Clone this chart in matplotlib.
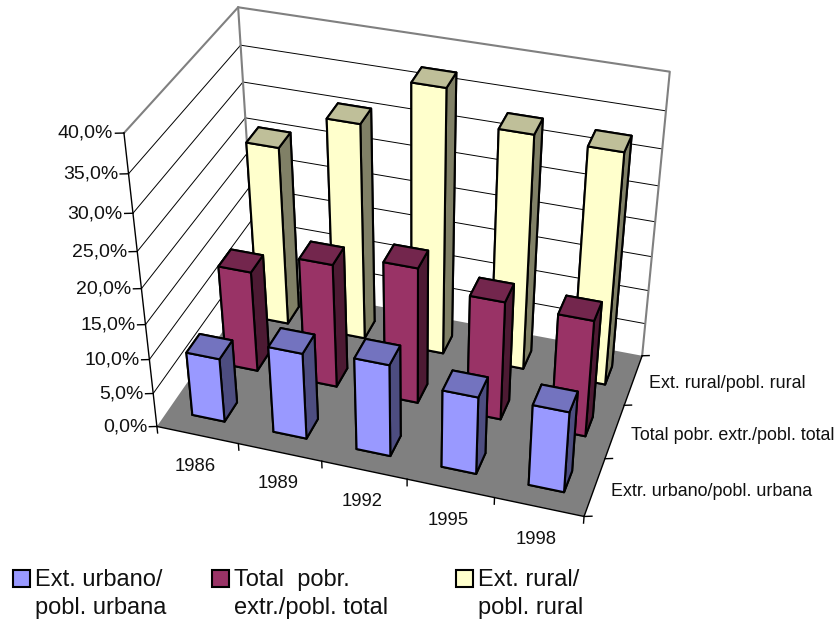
import numpy as np
import matplotlib
matplotlib.use('Agg')
import matplotlib.pyplot as plt
from matplotlib.patches import Rectangle
from mpl_toolkits.mplot3d.art3d import Poly3DCollection

years = ['1986', '1989', '1992', '1995', '1998']
series_names = ['Extr. urbano/pobl. urbana', 'Total pobr. extr./pobl. total', 'Ext. rural/pobl. rural']
legend_names = ['Ext. urbano/\npobl. urbana', 'Total  pobr.\nextr./pobl. total', 'Ext. rural/\npobl. rural']
z_ticks = [0, 5, 10, 15, 20, 25, 30, 35, 40]

urbano = [9.35, 12.55, 13.35, 11.25, 11.7]
total = [14.75, 18.0, 19.7, 17.2, 16.9]
rural = [26.0, 31.1, 37.6, 33.4, 33.0]
values = [urbano, total, rural]

# front, top, side
colors = [('#9999FF', '#7373BF', '#4D4D80'),
          ('#993366', '#73264D', '#4D1A33'),
          ('#FFFFCC', '#BFBF99', '#808066')]

plt.rcParams['font.family'] = ['Liberation Sans', 'DejaVu Sans']

nx, ny, zmax = len(years), len(series_names), z_ticks[-1]

# Box corners and where they sit in the picture, used to fit the camera
box = [(0, 0, 0), (nx, 0, 0), (nx, ny, 0), (0, ny, 0),
       (0, 0, zmax), (nx, ny, zmax), (0, ny, zmax)]
pix = [(156, 426), (584, 517), (642, 355), (257, 284),
       (125, 133), (670, 72), (237, 7)]

rows = []
for (x, y, z), (u, v) in zip(box, pix):
    v = 625 - v
    rows.append([x, y, z, 1, 0, 0, 0, 0, -u*x, -u*y, -u*z, -u])
    rows.append([0, 0, 0, 0, x, y, z, 1, -v*x, -v*y, -v*z, -v])
P = np.linalg.svd(np.array(rows))[2][-1].reshape(3, 4)
P = P / (P[2] @ [nx/2, ny/2, 0, 1])

fig = plt.figure(figsize=(8.4, 6.25), dpi=100)
ax = fig.add_axes([0, 0, 1, 1], projection='3d', computed_zorder=False)
ax.apply_aspect = lambda position=None: None


def get_proj():
    # camera from the fit, pixels turned into the axes' 2D view coordinates
    T = ax.transData.inverted().get_matrix() @ P
    return np.vstack([T[0], T[1], [0, 0, 0, -1], T[2]])


def label(x, y, z, s, **kw):
    # text placed flat on the figure, at the projected spot of a 3D point
    u, v, w = P @ [x, y, z, 1]
    fig.text(u / w / 840, v / w / 625, s, color='#111111', va='center', **kw)


ax.get_proj = get_proj
ax.set_axis_off()

GRID = dict(color='black', lw=0.7, zorder=1)
WALL = dict(color='#808080', lw=1.5, zorder=1.5)
AXIS = dict(color='black', lw=1.0, zorder=3)

# Grid on the walls
for z in z_ticks[1:-1]:
    ax.plot([0, 0], [0, ny], [z, z], **GRID)
    ax.plot([0, nx], [ny, ny], [z, z], **GRID)

# Wall outline
ax.plot([0, 0, nx, nx], [0, ny, ny, ny], [zmax, zmax, zmax, 0], **WALL)
ax.plot([0, 0], [ny, ny], [0, zmax], **WALL)

# Floor
floor = [[(0, 0, 0), (nx, 0, 0), (nx, ny, 0), (0, ny, 0)]]
ax.add_collection3d(Poly3DCollection(floor, facecolor='#808080', edgecolor='none', zorder=2))

# Axes lines and ticks
ax.plot([0, 0], [0, 0], [0, zmax], **AXIS)
ax.plot([0, nx, nx], [0, 0, ny], [0, 0, 0], **AXIS)
for z in z_ticks:
    ax.plot([0, -0.08], [0, -0.03], [z, z], **AXIS)
    label(-0.10, -0.038, z, f'{z},0%', ha='right', fontsize=14)
for i in range(nx + 1):
    ax.plot([i, i], [0, 0], [0, -1], **AXIS)
for j in range(ny + 1):
    ax.plot([nx, nx + 0.08], [j, j + 0.03], [0, 0], **AXIS)
for i, year in enumerate(years):
    label(i*1.012 + 0.44, 0, -5.0, year, ha='center', fontsize=13.3)
for j, name in enumerate(series_names):
    label(nx + 0.18, j + 0.53, -0.4, name, ha='left', fontsize=12.9)

# Bars, back row first
bar_w, bar_d = 0.40, 0.37
for j in range(ny - 1, -1, -1):
    front, top, side = colors[j]
    for i in range(nx - 1, -1, -1):
        ax.bar3d(i + 0.5 - bar_w/2, j + 0.5 - bar_d/2, 0, bar_w, bar_d, values[j][i],
                 color=[top, top, front, front, side, side], shade=False,
                 edgecolor='black', linewidth=1.5, zorder=10 + 10*(ny - j) + (nx - i))

# Legend
leg_x = [13, 212, 456]
for (front, _, _), name, x in zip(colors, legend_names, leg_x):
    fig.add_artist(Rectangle((x/840, 1 - 587/625), 17/840, 17/625, transform=fig.transFigure,
                             facecolor=front, edgecolor='black', lw=1.5))
    fig.text((x + 22)/840, 1 - 569/625, name, ha='left', va='top', fontsize=17, linespacing=1.35, color='#111111')

fig.savefig('out.png', dpi=100)
